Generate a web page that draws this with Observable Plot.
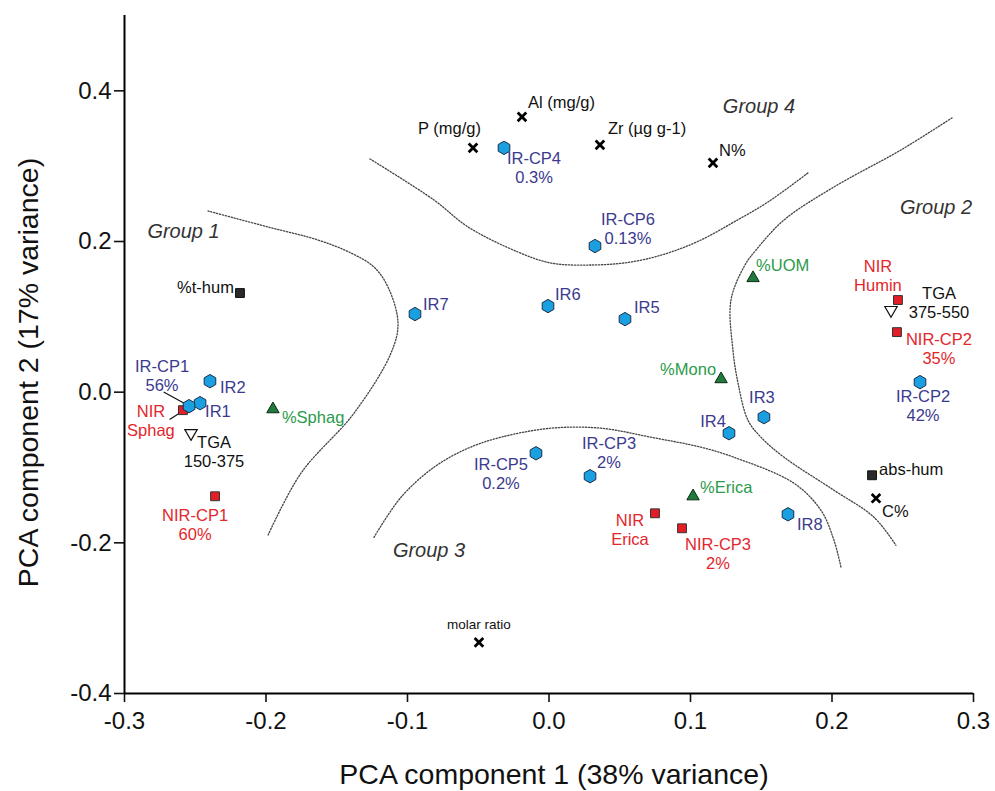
<!DOCTYPE html>
<html>
<head>
<meta charset="utf-8">
<script src="https://cdn.jsdelivr.net/npm/d3@7"></script>
<script src="https://cdn.jsdelivr.net/npm/@observablehq/plot@0.6"></script>
<style>
  html, body { margin: 0; padding: 0; background: #fff; }
  #chart { width: 995px; height: 791px; }
</style>
</head>
<body>
<div id="chart"></div>
<script>
// PCA loadings: component 1 and component 2 scores for each variable
const names = [
  "P (mg/g)", "Al (mg/g)", "Zr (µg g-1)", "N%", "molar ratio", "C%",
  "%t-hum", "abs-hum",
  "TGA\n150-375", "TGA\n375-550",
  "NIR\nHumin", "NIR-CP2\n35%", "NIR\nSphag", "NIR-CP1\n60%", "NIR\nErica", "NIR-CP3\n2%",
  "%Sphag", "%UOM", "%Mono", "%Erica",
  "IR1", "IR-CP1\n56%", "IR2", "IR7", "IR6", "IR5", "IR-CP4\n0.3%", "IR-CP6\n0.13%",
  "IR-CP5\n0.2%", "IR-CP3\n2%", "IR4", "IR3", "IR8", "IR-CP2\n42%"
];
const pc1 = [
  -0.0537, -0.0191, 0.0360, 0.1159, -0.0495, 0.2311,
  -0.2184, 0.2283,
  -0.2530, 0.2417,
  0.2466, 0.2459, -0.2587, -0.2360, 0.0749, 0.0940,
  -0.1951, 0.1442, 0.1216, 0.1018,
  -0.2466, -0.2544, -0.2396, -0.0947, -0.0007, 0.0537, -0.0318, 0.0325,
  -0.0092, 0.0290, 0.1272, 0.1519, 0.1689, 0.2622
];
const pc2 = [
  0.3243, 0.3654, 0.3282, 0.3043, -0.3322, -0.1409,
  0.1316, -0.1103,
  -0.0545, 0.1090,
  0.1223, 0.0797, -0.0239, -0.1382, -0.1608, -0.1807,
  -0.0226, 0.1515, 0.0173, -0.1382,
  -0.0146, -0.0186, 0.0146, 0.1037, 0.1143, 0.0970, 0.3243, 0.1940,
  -0.0811, -0.1116, -0.0545, -0.0332, -0.1621, 0.0133
];
const kinds = [
  "element", "element", "element", "element", "element", "element",
  "humic", "humic",
  "tga", "tga",
  "nir", "nir", "nir", "nir", "nir", "nir",
  "veg", "veg", "veg", "veg",
  "ir", "ir", "ir", "ir", "ir", "ir", "ir", "ir",
  "ir", "ir", "ir", "ir", "ir", "ir"
];

// Group annotations
const groupNames = ["Group 1", "Group 2", "Group 3", "Group 4"];
const groupX = [-0.2583, 0.2735, -0.0848, 0.1484];
const groupY = [0.2126, 0.2445, -0.2100, 0.3787];

// Dotted boundaries between groups
const boundary1X = [-0.2410, -0.1986, -0.1633, -0.1399, -0.1237, -0.1138, -0.1067, -0.1117, -0.1378, -0.1753, -0.1986];
const boundary1Y = [0.2405, 0.2193, 0.2020, 0.1847, 0.1661, 0.1395, 0.0917, 0.0518, -0.0279, -0.1076, -0.1900];
const boundary4X = [-0.1265, -0.0813, -0.0572, -0.0219, 0.0014, 0.0297, 0.0580, 0.0841, 0.1074, 0.1307, 0.1548, 0.1830];
const boundary4Y = [0.3096, 0.2551, 0.2193, 0.1860, 0.1714, 0.1688, 0.1728, 0.1847, 0.2020, 0.2259, 0.2525, 0.2910];
const boundary2X = [0.2848, 0.2488, 0.2014, 0.1661, 0.1463, 0.1385, 0.1286, 0.1300, 0.1336, 0.1406, 0.1498, 0.1661, 0.2014, 0.2297, 0.2452];
const boundary2Y = [0.3641, 0.3216, 0.2724, 0.2286, 0.1887, 0.1688, 0.1223, 0.0558, 0.0120, -0.0372, -0.0598, -0.0864, -0.1302, -0.1661, -0.2033];
const boundary3X = [-0.1237, -0.1046, -0.0813, -0.0572, -0.0339, 0.0014, 0.0367, 0.0721, 0.1074, 0.1307, 0.1731, 0.1922, 0.2014, 0.2064];
const boundary3Y = [-0.1927, -0.1395, -0.0997, -0.0744, -0.0598, -0.0478, -0.0478, -0.0598, -0.0731, -0.0864, -0.1209, -0.1568, -0.1967, -0.2326];

const xTicks = [-0.3, -0.2, -0.1, 0.0, 0.1, 0.2, 0.3];
const yTicks = [-0.4, -0.2, 0.0, 0.2, 0.4];

// ---- tables built from the arrays above ----
const points = names.map((name, i) => ({name, pc1: pc1[i], pc2: pc2[i], kind: kinds[i]}));
const groups = groupNames.map((name, i) => ({name, x: groupX[i], y: groupY[i]}));
const boundaries = [
  [boundary1X, boundary1Y], [boundary4X, boundary4Y],
  [boundary2X, boundary2Y], [boundary3X, boundary3Y]
].flatMap(([xs, ys], k) => xs.map((x, i) => ({id: k, x, y: ys[i]})));

// Label placement relative to each marker: [dx, dy, textAnchor]
const labelPlacement = {
  "P (mg/g)": [8, -20, "end"],
  "Al (mg/g)": [6, -15, "start"],
  "Zr (µg g-1)": [8, -17, "start"],
  "N%": [6, -13, "start"],
  "molar ratio": [0, -18, "middle"],
  "C%": [6, 13, "start"],
  "%t-hum": [-6, -6, "end"],
  "abs-hum": [7, -6, "start"],
  "TGA\n150-375": [23, 18, "middle"],
  "TGA\n375-550": [48, -8, "middle"],
  "NIR\nHumin": [-20, -25, "middle"],
  "NIR-CP2\n35%": [42, 16, "middle"],
  "NIR\nSphag": [-32, 10, "middle"],
  "NIR-CP1\n60%": [-20, 28, "middle"],
  "NIR\nErica": [-25, 16, "middle"],
  "NIR-CP3\n2%": [36, 25, "middle"],
  "%Sphag": [9, 8, "start"],
  "%UOM": [3, -13, "start"],
  "%Mono": [-5, -10, "end"],
  "%Erica": [7, -9, "start"],
  "IR1": [5, 8, "start"],
  "IR-CP1\n56%": [-27, -31, "middle"],
  "IR2": [10, 6, "start"],
  "IR7": [8, -10, "start"],
  "IR6": [7, -12, "start"],
  "IR5": [9, -12, "start"],
  "IR-CP4\n0.3%": [30, 20, "middle"],
  "IR-CP6\n0.13%": [33, -18, "middle"],
  "IR-CP5\n0.2%": [-35, 20, "middle"],
  "IR-CP3\n2%": [19, -24, "middle"],
  "IR4": [-16, -12, "middle"],
  "IR3": [-2, -20, "middle"],
  "IR8": [9, 10, "start"],
  "IR-CP2\n42%": [3, 23, "middle"]
};

// Leader lines from crowded markers to their labels: [length, rotate, dx, dy]
const leaders = {
  "IR-CP1\n56%": [25, 298.6, -3, -2],
  "NIR\nSphag": [13, 237.5, -2, 2]
};

const labelColor = {
  element: "#111", humic: "#111", tga: "#111",
  nir: "#e3262c", veg: "#2b9a4b", ir: "#3b3a8e"
};

// Open triangle pointing down
const triangleDown = {
  draw(context, size) {
    const y = -Math.sqrt(size / (Math.sqrt(3) * 3));
    context.moveTo(0, -y * 2);
    context.lineTo(-Math.sqrt(3) * y, y);
    context.lineTo(Math.sqrt(3) * y, y);
    context.closePath();
  }
};

const markerStyle = {
  element: {symbol: "times", r: 4, fill: "none", stroke: "#000", strokeWidth: 2.8},
  humic: {symbol: "square", r: 5, fill: "#2a2a2a", stroke: "#111", strokeWidth: 1},
  tga: {symbol: triangleDown, r: 4.6, fill: "#fff", stroke: "#111", strokeWidth: 1.2},
  nir: {symbol: "square", r: 5, fill: "#e41e26", stroke: "#333", strokeWidth: 1},
  veg: {symbol: "triangle", r: 4.6, fill: "#1f7a3b", stroke: "#0b2a14", strokeWidth: 1},
  ir: {symbol: "hexagon", r: 5.8, fill: "#1a9fe0", stroke: "#1a2f4a", strokeWidth: 1}
};

const font = "'Liberation Sans', Arial, Helvetica, sans-serif";

const labelMarks = points.map(p => {
  const [dx, dy, anchor] = labelPlacement[p.name];
  return Plot.text([p], {
    x: "pc1", y: "pc2", text: "name",
    dx, dy, textAnchor: anchor, lineAnchor: "middle", lineHeight: 1.15,
    fill: labelColor[p.kind],
    fontSize: p.name === "molar ratio" ? 13.5 : 16.5
  });
});

const leaderMarks = points.filter(p => leaders[p.name]).map(p => {
  const [length, rotate, dx, dy] = leaders[p.name];
  return Plot.vector([p], {
    x: "pc1", y: "pc2", length, rotate, dx, dy,
    anchor: "start", r: 0, stroke: "#111", strokeWidth: 1.2
  });
});

const dotMarks = Object.entries(markerStyle).map(([kind, style]) =>
  Plot.dot(points.filter(p => p.kind === kind), {x: "pc1", y: "pc2", ...style})
);

const chart = Plot.plot({
  width: 995,
  height: 791,
  marginLeft: 124,
  marginRight: 22,
  marginTop: 15,
  marginBottom: 98,
  style: {fontFamily: font, background: "#fff", color: "#111"},
  x: {domain: [-0.3, 0.3]},
  y: {domain: [-0.4, 0.5]},
  marks: [
    Plot.line(boundaries, {
      x: "x", y: "y", z: "id", curve: "catmull-rom",
      stroke: "#444", strokeWidth: 1.3, strokeDasharray: "1.3,1.7"
    }),
    Plot.axisX({
      ticks: xTicks, tickFormat: d => d.toFixed(1), tickSize: 9, tickPadding: 9,
      fontSize: 24, strokeWidth: 1.6, label: null
    }),
    Plot.axisY({
      ticks: yTicks, tickFormat: d => d.toFixed(1), tickSize: 10, tickPadding: 3,
      fontSize: 24, strokeWidth: 1.6, label: null
    }),
    Plot.ruleX([-0.3], {strokeWidth: 2, stroke: "#000"}),
    Plot.ruleY([-0.4], {strokeWidth: 2, stroke: "#000"}),
    Plot.text(["PCA component 1 (38% variance)"], {
      frameAnchor: "bottom", dx: 5, dy: 90, fontSize: 28.5, fill: "#111"
    }),
    Plot.text(["PCA component 2 (17% variance)"], {
      frameAnchor: "left", textAnchor: "middle", dx: -96, dy: 18, rotate: -90,
      fontSize: 28.5, fill: "#111"
    }),
    Plot.text(groups, {
      x: "x", y: "y", text: "name", fontSize: 20, fontStyle: "italic", fill: "#333"
    }),
    ...leaderMarks,
    ...dotMarks,
    ...labelMarks
  ]
});

document.getElementById("chart").appendChild(chart);
</script>
</body>
</html>
